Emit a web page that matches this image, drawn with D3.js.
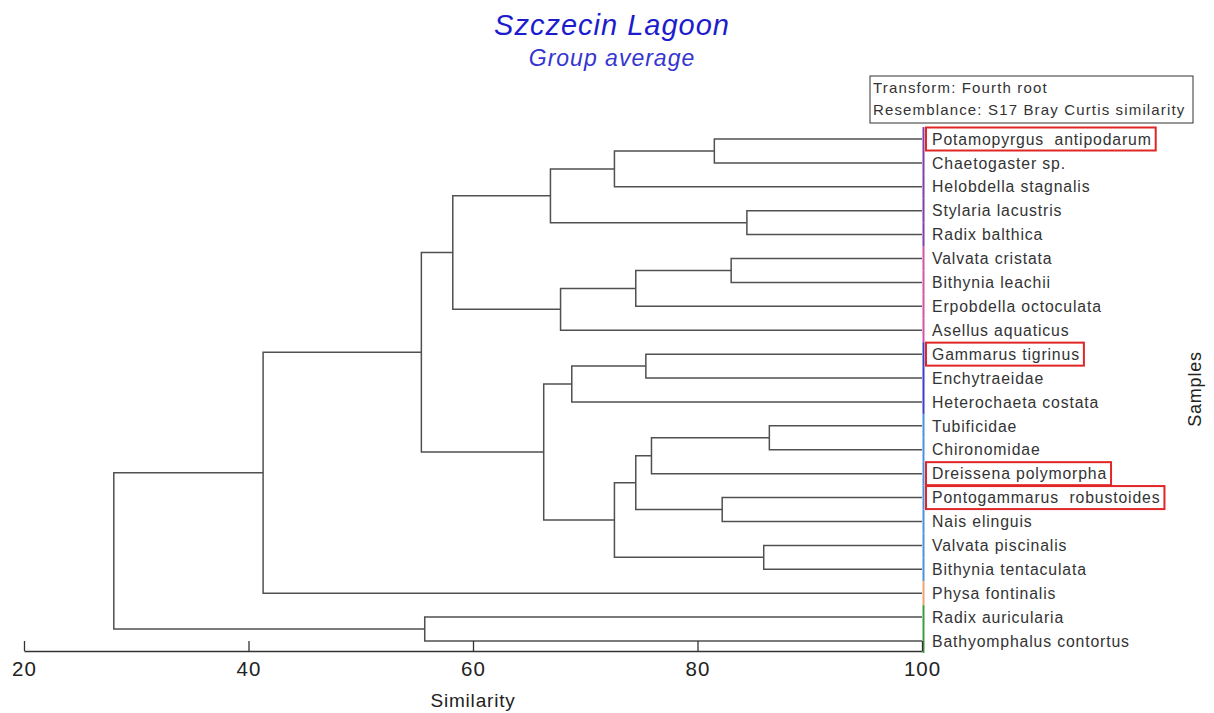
<!DOCTYPE html>
<html>
<head>
<meta charset="utf-8">
<script src="https://cdn.jsdelivr.net/npm/d3@7"></script>
<style>
  body { margin: 0; background: #fff; }
  svg { font-family: "Liberation Sans", Arial, sans-serif; }
</style>
</head>
<body>
<div id="chart"></div>
<script>
// leaves, top to bottom
var leaves = [
  'Potamopyrgus  antipodarum',
  'Chaetogaster sp.',
  'Helobdella stagnalis',
  'Stylaria lacustris',
  'Radix balthica',
  'Valvata cristata',
  'Bithynia leachii',
  'Erpobdella octoculata',
  'Asellus aquaticus',
  'Gammarus tigrinus',
  'Enchytraeidae',
  'Heterochaeta costata',
  'Tubificidae',
  'Chironomidae',
  'Dreissena polymorpha',
  'Pontogammarus  robustoides',
  'Nais elinguis',
  'Valvata piscinalis',
  'Bithynia tentaculata',
  'Physa fontinalis',
  'Radix auricularia',
  'Bathyomphalus contortus'
]

// colour group of each leaf (the strip at 100)
var leafGroup = [0, 0, 0, 0, 0, 1, 1, 1, 1, 2, 2, 2, 3, 3, 3, 3, 3, 3, 3, 4, 5, 5]
var groupColors = ['#7f3fa6', '#d452a8', '#3a3fc4', '#4a92dc', '#f0a274', '#3f9b3f']

var highlighted = [
  'Potamopyrgus  antipodarum',
  'Gammarus tigrinus',
  'Dreissena polymorpha',
  'Pontogammarus  robustoides'
]

// merges: [left, right, similarity]; numbers refer to earlier merges
var merges = [
  ['Potamopyrgus  antipodarum', 'Chaetogaster sp.', 81.5], // 0
  [0, 'Helobdella stagnalis', 72.6], // 1
  ['Stylaria lacustris', 'Radix balthica', 84.4], // 2
  [1, 2, 66.9], // 3
  ['Valvata cristata', 'Bithynia leachii', 83.0], // 4
  [4, 'Erpobdella octoculata', 74.5], // 5
  [5, 'Asellus aquaticus', 67.8], // 6
  [3, 6, 58.2], // 7
  ['Gammarus tigrinus', 'Enchytraeidae', 75.4], // 8
  [8, 'Heterochaeta costata', 68.8], // 9
  ['Tubificidae', 'Chironomidae', 86.4], // 10
  [10, 'Dreissena polymorpha', 75.9], // 11
  ['Pontogammarus  robustoides', 'Nais elinguis', 82.2], // 12
  [11, 12, 74.5], // 13
  ['Valvata piscinalis', 'Bithynia tentaculata', 85.9], // 14
  [13, 14, 72.6], // 15
  [9, 15, 66.3], // 16
  [7, 16, 55.4], // 17
  [17, 'Physa fontinalis', 41.3], // 18
  ['Radix auricularia', 'Bathyomphalus contortus', 55.7], // 19
  [18, 19, 28.0] // 20
]

var xTicks = [20, 40, 60, 80, 100]

var width = 1214
var height = 713

var svg = d3
  .select('#chart')
  .append('svg')
  .attr('width', width)
  .attr('height', height)

var xScale = d3.scaleLinear().domain([20, 100]).range([24, 922])
var yScale = d3.scalePoint().domain(leaves).range([139, 641])
var step = yScale.step()

// work out where each node sits
var nodePos = merges.map(() => null)
function pos(ref) {
  if (typeof ref === 'string') {
    return { x: xScale(100), y: yScale(ref) }
  }
  return nodePos[ref]
}
merges.forEach((m, i) => {
  var a = pos(m[0])
  var b = pos(m[1])
  nodePos[i] = { x: xScale(m[2]), y: (a.y + b.y) / 2, a: a, b: b }
})

var tree = svg.append('g').attr('fill', 'none').attr('stroke', '#505050').attr('stroke-width', 1.5)

nodePos.forEach(n => {
  tree
    .append('path')
    .attr('d', 'M' + n.a.x + ',' + n.a.y + 'H' + n.x + 'V' + n.b.y + 'H' + n.b.x)
})

// coloured strip
svg
  .selectAll('.strip')
  .data(leaves)
  .enter()
  .append('line')
  .attr('class', 'strip')
  .attr('x1', xScale(100) + 1.5)
  .attr('x2', xScale(100) + 1.5)
  .attr('y1', d => yScale(d) - step / 2)
  .attr('y2', d => yScale(d) + step / 2)
  .attr('stroke', (d, i) => groupColors[leafGroup[i]])
  .attr('stroke-width', 2)

// leaf labels
var labels = svg
  .selectAll('.leaf')
  .data(leaves)
  .enter()
  .append('text')
  .attr('class', 'leaf')
  .attr('x', 932)
  .attr('y', d => yScale(d))
  .attr('dy', '0.36em')
  .attr('font-size', 15.8)
  .attr('letter-spacing', 0.85)
  .attr('fill', '#333')
  .style('white-space', 'pre')
  .text(d => d)

labels
  .filter(d => highlighted.includes(d))
  .each(function(d) {
    var bb = this.getBBox()
    svg
      .append('rect')
      .attr('x', 926)
      .attr('y', yScale(d) - 11.5)
      .attr('width', bb.x + bb.width + 4 - 926)
      .attr('height', 23)
      .attr('fill', 'none')
      .attr('stroke', '#e02626')
      .attr('stroke-width', 2)
  })

// axis
var axis = svg
  .append('g')
  .attr('transform', 'translate(0,651)')
  .call(
    d3
      .axisBottom(xScale)
      .tickValues(xTicks)
      .tickSizeInner(-10)
      .tickSizeOuter(0)
      .tickPadding(10)
  )
axis.select('.domain').attr('stroke', '#333').attr('stroke-width', 1.3)
axis.selectAll('.tick line').attr('stroke', '#333').attr('stroke-width', 1.3)
axis
  .selectAll('.tick text')
  .attr('font-size', 20.5)
  .attr('letter-spacing', 1)
  .attr('fill', '#222')
  .attr('font-family', '"Liberation Sans", Arial, sans-serif')

svg
  .append('text')
  .attr('x', xScale(60))
  .attr('y', 707)
  .attr('text-anchor', 'middle')
  .attr('font-size', 19)
  .attr('letter-spacing', 0.8)
  .attr('fill', '#222')
  .text('Similarity')

svg
  .append('text')
  .attr('transform', 'translate(1201,389) rotate(-90)')
  .attr('text-anchor', 'middle')
  .attr('font-size', 18)
  .attr('letter-spacing', 0.8)
  .attr('fill', '#222')
  .text('Samples')

// titles
svg
  .append('text')
  .attr('x', 612)
  .attr('y', 35)
  .attr('text-anchor', 'middle')
  .attr('font-size', 29)
  .attr('font-style', 'italic')
  .attr('letter-spacing', 1)
  .attr('fill', '#1c1ccc')
  .text('Szczecin Lagoon')

svg
  .append('text')
  .attr('x', 612)
  .attr('y', 66)
  .attr('text-anchor', 'middle')
  .attr('font-size', 23)
  .attr('font-style', 'italic')
  .attr('letter-spacing', 1)
  .attr('fill', '#3535d0')
  .text('Group average')

// resemblance box
var box = svg.append('g')
box
  .append('rect')
  .attr('x', 870)
  .attr('y', 76)
  .attr('width', 323)
  .attr('height', 47)
  .attr('fill', '#fff')
  .attr('stroke', '#333')
  .attr('stroke-width', 1)
box
  .selectAll('text')
  .data(['Transform: Fourth root', 'Resemblance: S17 Bray Curtis similarity'])
  .enter()
  .append('text')
  .attr('x', 873)
  .attr('y', (d, i) => 93 + i * 22)
  .attr('font-size', 15)
  .attr('letter-spacing', 1.15)
  .attr('fill', '#333')
  .text(d => d)
</script>
</body>
</html>
